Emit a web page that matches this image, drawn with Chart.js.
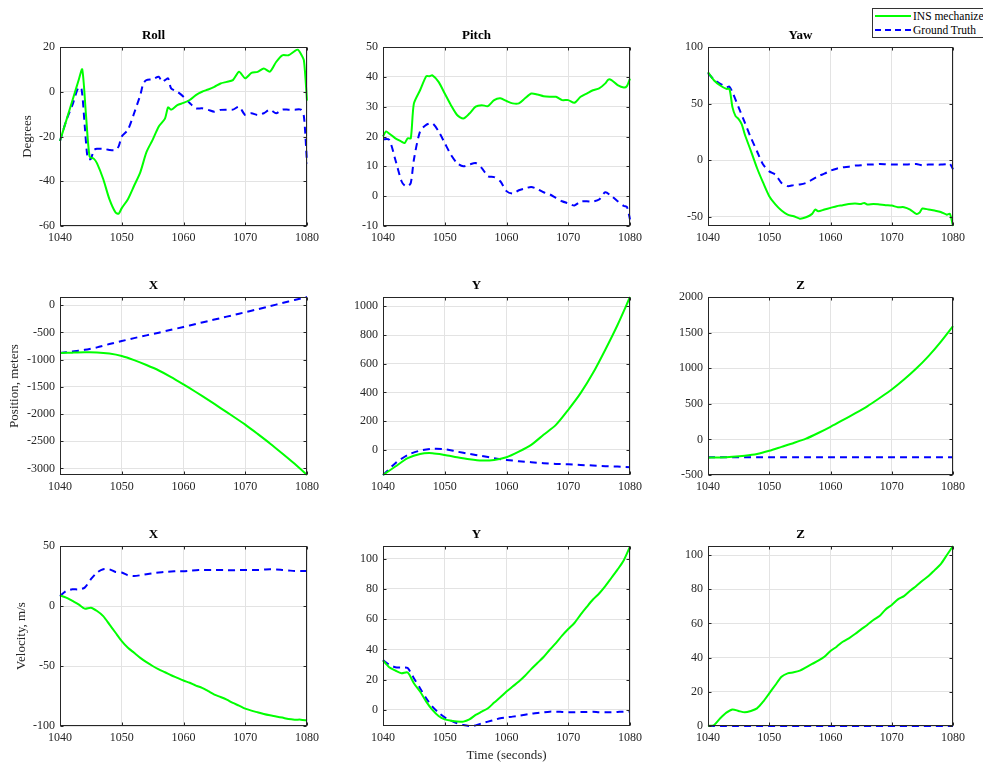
<!DOCTYPE html>
<html>
<head>
<meta charset="utf-8">
<script src="https://cdn.jsdelivr.net/npm/chart.js@4.4.1/dist/chart.umd.min.js"></script>
<style>
  body { margin: 0; background: #fff; width: 983px; height: 765px; position: relative; overflow: hidden; font-family: 'Liberation Serif', serif; }
  canvas { position: absolute; }
  #legend { position: absolute; left: 872px; top: 8px; width: 124px; height: 28px; border: 1px solid #333; background: #fff; font-size: 11.5px; color: #000; }
  #legend .row { position: absolute; left: 0; height: 14px; line-height: 14px; }
  #legend .ln { position: absolute; left: 2px; top: 6px; width: 36px; border-top: 2px solid #00ff00; }
  #legend .ln.gt { border-top: 2px dashed #0000ff; }
  #legend .tx { position: absolute; left: 40px; top: 0; white-space: nowrap; }
</style>
</head>
<body>
<div id="legend">
  <div class="row" style="top:0px"><span class="ln"></span><span class="tx">INS mechanize</span></div>
  <div class="row" style="top:14px"><span class="ln gt"></span><span class="tx">Ground Truth</span></div>
</div>
<script>
// --- data ---
const xTicks = [1040, 1050, 1060, 1070, 1080];

const rollTicks = [-60, -40, -20, 0, 20];
const rollInsT = [1040, 1041, 1042, 1043, 1043.6, 1044.2, 1044.8, 1045.5, 1046, 1047, 1048, 1049, 1049.5, 1050, 1051, 1052, 1053, 1054, 1055, 1056, 1057, 1057.5, 1058, 1059, 1060, 1061, 1062, 1063, 1064, 1065, 1066, 1067, 1068, 1069, 1070, 1071, 1072, 1073, 1074, 1075, 1076, 1077, 1078, 1078.5, 1079, 1079.5, 1080];
const rollInsV = [-22, -13, -4, 5, 10, -10, -29, -30, -32, -39, -48, -54, -54.5, -52, -48, -42, -36, -27, -21.5, -15.5, -12, -7, -8, -6, -5, -3.7, -1.5, 0, 1, 2.2, 3.7, 4.4, 5.2, 8.9, 6, 8.4, 8.9, 10.4, 9, 13.3, 16.3, 16.3, 18.2, 18.8, 17, 14, -4];
const rollGtT = [1040, 1041, 1042, 1043, 1043.5, 1044, 1044.5, 1045, 1045.5, 1046, 1047, 1048, 1049, 1049.5, 1050, 1051, 1052, 1053, 1053.5, 1054, 1055, 1056, 1056.5, 1057, 1057.5, 1058, 1059, 1060, 1061, 1062, 1063, 1064, 1065, 1066, 1067, 1068, 1069, 1070, 1071, 1072, 1073, 1074, 1075, 1076, 1077, 1078, 1079, 1079.5, 1080];
const rollGtV = [-22, -13, -6, 2, 1, -15, -30, -30, -26, -25.5, -25.5, -26, -26, -24.4, -20, -17, -9.6, -1.5, 3.7, 5.2, 5.6, 6.7, 4.4, 5.2, 6, 1.5, 0, -2.2, -5, -7.4, -7.4, -8.1, -8.9, -8.1, -8, -8, -6.7, -10.4, -9.6, -10.4, -9.6, -8, -9.6, -8, -8, -8, -8, -11, -32];

const pitchTicks = [-10, 0, 10, 20, 30, 40, 50];
const pitchInsT = [1040, 1040.5, 1041, 1042, 1043, 1043.5, 1044, 1044.5, 1045, 1046, 1047, 1047.5, 1048, 1049, 1050, 1051, 1052, 1053, 1054, 1055, 1056, 1057, 1058, 1059, 1060, 1061, 1062, 1063, 1064, 1065, 1066, 1067, 1068, 1069, 1070, 1071, 1072, 1073, 1074, 1075, 1076, 1076.5, 1077, 1078, 1079, 1079.5, 1080];
const pitchInsV = [20, 21.7, 21, 19.4, 18.3, 17.8, 19.4, 19.4, 31, 35.5, 40.2, 40.2, 40.5, 38.3, 34.4, 30.5, 27.2, 26, 27.7, 30, 30.5, 30.2, 32.2, 32.8, 31.9, 31.1, 31.1, 32.8, 34.4, 34.1, 33.5, 33.3, 33.3, 32.2, 32.2, 31.3, 33.3, 34.4, 35.5, 36.1, 37.8, 39.1, 38.9, 37.2, 36.4, 36.9, 39.4];
const pitchGtT = [1040, 1041, 1042, 1043, 1043.5, 1044, 1044.5, 1045, 1046, 1047, 1048, 1049, 1050, 1051, 1052, 1053, 1054, 1055, 1056, 1057, 1058, 1059, 1060, 1061, 1062, 1063, 1064, 1065, 1066, 1067, 1068, 1069, 1070, 1071, 1072, 1073, 1074, 1075, 1076, 1077, 1078, 1079, 1079.5, 1080];
const pitchGtV = [19.1, 18.9, 12.2, 5, 3.6, 3.3, 4.4, 12.2, 21.7, 23.9, 24.4, 21.7, 17.8, 13.9, 11.1, 10, 10.6, 11.1, 9.4, 6.7, 6.4, 5, 1.7, 0.9, 2, 2.6, 3.1, 2.4, 1.3, 0.6, -0.6, -1.7, -2.4, -3.1, -1.8, -1.7, -1.8, -1.1, 1.3, 0, -1.7, -3.3, -3.6, -7.8];

const yawTicks = [-50, 0, 50, 100];
const yawInsT = [1040, 1041, 1042, 1043, 1043.5, 1044, 1044.5, 1045, 1045.5, 1046, 1047, 1048, 1049, 1050, 1051, 1052, 1053, 1054, 1055, 1056, 1057, 1057.5, 1058, 1059, 1060, 1061, 1062, 1063, 1064, 1065, 1065.5, 1066, 1067, 1068, 1069, 1070, 1071, 1072, 1073, 1074, 1074.5, 1075, 1076, 1077, 1078, 1079, 1079.5, 1080];
const yawInsV = [77.8, 70.4, 66, 63, 63, 46.7, 39, 36.4, 32, 23, 8.3, -6.8, -19.8, -31.7, -39, -44.4, -48, -49.4, -51.5, -50.3, -47.3, -43.5, -45, -43.5, -42, -40.5, -39.6, -38.5, -38.2, -38.5, -37.6, -39, -38.5, -39, -39.6, -40, -41.4, -41.4, -43.5, -47.3, -46.4, -42.6, -43.5, -44.4, -45.6, -48, -47.3, -58];
const yawGtT = [1040, 1041, 1042, 1043, 1043.5, 1044, 1045, 1046, 1047, 1048, 1049, 1050, 1051, 1052, 1053, 1054, 1055, 1056, 1057, 1058, 1059, 1060, 1061, 1062, 1063, 1064, 1065, 1066, 1067, 1068, 1069, 1070, 1071, 1072, 1073, 1074, 1075, 1076, 1077, 1078, 1079, 1079.5, 1080];
const yawGtV = [77, 71, 67.5, 64.5, 65, 60, 46.7, 33.4, 20, 8, -3.8, -9.8, -12.7, -20, -22.8, -21.9, -21.3, -20, -17, -14, -11.8, -9.2, -7.4, -6.2, -5.6, -4.7, -4.4, -3.8, -3.8, -3.3, -3.5, -3.8, -3.8, -3.8, -3.5, -3.3, -4.4, -3.8, -3.8, -3.8, -3.3, -3, -8];

// position, every 2 s
const posTime = [1040, 1042, 1044, 1046, 1048, 1050, 1052, 1054, 1056, 1058, 1060, 1062, 1064, 1066, 1068, 1070, 1072, 1074, 1076, 1078, 1080];
const posXTicks = [-3000, -2500, -2000, -1500, -1000, -500, 0];
const posXIns = [-880, -872, -866, -868, -890, -935, -1010, -1100, -1200, -1320, -1455, -1595, -1740, -1890, -2040, -2195, -2365, -2540, -2725, -2915, -3120];
const posXGt = [-880, -850, -820, -775, -715, -660, -605, -555, -505, -452, -400, -345, -292, -238, -184, -130, -75, -18, 38, 95, 150];
const posYTicks = [0, 200, 400, 600, 800, 1000];
const posYIns = [-175, -116, -58, -28, -23, -35, -51, -65, -74, -70, -51, -12, 35, 105, 174, 279, 395, 535, 698, 872, 1065];
const posYGt = [-175, -93, -35, -5, 7, 5, -12, -28, -42, -58, -70, -79, -86, -93, -98, -100, -105, -109, -114, -116, -121];
const posZTicks = [-500, 0, 500, 1000, 1500, 2000];
const posZIns = [-256, -254, -245, -230, -205, -160, -105, -50, 10, 90, 177, 270, 365, 465, 580, 700, 840, 995, 1170, 1370, 1590];
const posZGt = [-252, -252, -252, -252, -252, -252, -252, -252, -252, -252, -252, -252, -252, -252, -252, -252, -252, -252, -252, -252, -252];

// velocity, every 1 s
const velTime = [1040, 1041, 1042, 1043, 1044, 1045, 1046, 1047, 1048, 1049, 1050, 1051, 1052, 1053, 1054, 1055, 1056, 1057, 1058, 1059, 1060, 1061, 1062, 1063, 1064, 1065, 1066, 1067, 1068, 1069, 1070, 1071, 1072, 1073, 1074, 1075, 1076, 1077, 1078, 1079, 1080];
const velXTicks = [-100, -50, 0, 50];
const velXIns = [8.9, 7, 4.2, 1.4, -2.2, -1.4, -4.2, -8.4, -15.3, -22.3, -29.2, -34.8, -39, -43.2, -46.8, -50, -52.9, -55.2, -57.7, -59.9, -62.1, -64, -66.3, -68.2, -71, -73.8, -75.8, -78, -80.8, -83, -85.5, -87.2, -88.6, -90, -91.1, -92, -93, -94.2, -94.7, -94.7, -95.3];
const velXGt = [8.4, 12.5, 13.9, 13.9, 15.3, 22.3, 27.9, 30.6, 30.6, 28.4, 27.9, 25.6, 25, 25.6, 26.5, 27.3, 27.9, 28.4, 28.7, 29, 29, 29.4, 29.8, 30, 30, 30, 30, 29.9, 29.8, 29.9, 30, 30, 30, 30.3, 30.6, 30.4, 30, 29.6, 29.2, 29.2, 29.2];
const velYTicks = [0, 20, 40, 60, 80, 100];
const velYIns = [32.7, 28.3, 26.1, 24.3, 24.8, 17.7, 12.2, 5.5, 0, -4, -6.2, -7.1, -7.7, -7.7, -6.2, -3.3, -1.1, 1.1, 4.9, 8.4, 12.2, 15.5, 18.8, 22.6, 27, 31, 35, 39.8, 44.2, 49.1, 53.5, 57.5, 63, 68.1, 73, 77, 81.9, 87.4, 92.9, 99, 108];
const velYGt = [33, 29.9, 28.3, 28.1, 27.7, 21, 14.4, 7.7, 2.2, -1.8, -4.9, -7.1, -8.8, -10, -10.6, -10.2, -8.8, -7.7, -6.6, -5.5, -4.9, -4.4, -3.8, -3.1, -2.4, -2, -1.5, -1.1, -1.1, -1.3, -1.5, -1.5, -1.3, -1.3, -1.1, -1.5, -1.5, -1.5, -1.3, -1.1, -1.1];
const velZTicks = [0, 20, 40, 60, 80, 100];
const velZIns = [0, 0.6, 4.5, 7.8, 9.7, 8.8, 8, 8.8, 10.3, 14.2, 19.1, 24, 28.8, 30.8, 31.4, 32.4, 34.3, 36.3, 38.2, 40.5, 43.9, 46.4, 49.3, 51.3, 53.8, 56.5, 59.1, 62, 64.3, 68.2, 70.8, 74.1, 76, 79.1, 81.9, 85, 87.7, 91.2, 94.7, 100, 105.3];
const velZGt = [0, 0, 0, 0, 0, 0, 0, 0, 0, 0, 0, 0, 0, 0, 0, 0, 0, 0, 0, 0, 0, 0, 0, 0, 0, 0, 0, 0, 0, 0, 0, 0, 0, 0, 0, 0, 0, 0, 0, 0, 0];

// --- layout ---
const COLS = [{ l: 60, r: 307 }, { l: 383, r: 630 }, { l: 708, r: 953 }];
const ROWS = [{ t: 47, b: 226 }, { t: 297, b: 475 }, { t: 546, b: 726 }];
const Y_W = 60, TITLE_H = 25, RIGHT_PAD = 22;
const FONT = "'Liberation Serif', 'Times New Roman', serif";
const TICK_COLOR = '#262626';

function pts(t, v) {
  return t.map((x, i) => ({ x: x, y: v[i] }));
}

// plain numbers, no thousands separator
const plain = v => String(v);

// box + inward tick marks, matlab style
const framePlugin = {
  id: 'frame',
  afterDraw(chart) {
    const a = chart.chartArea;
    const c = chart.ctx;
    const L = Math.round(a.left) + 0.5, R = Math.round(a.right) - 0.5;
    const T = Math.round(a.top) + 0.5, B = Math.round(a.bottom) - 0.5;
    c.save();
    c.strokeStyle = TICK_COLOR;
    c.lineWidth = 1;
    c.beginPath();
    chart.scales.x.ticks.forEach(tk => {
      const px = Math.round(chart.scales.x.getPixelForValue(tk.value)) + 0.5;
      c.moveTo(px, B); c.lineTo(px, B - 3);
      c.moveTo(px, T); c.lineTo(px, T + 3);
    });
    chart.scales.y.ticks.forEach(tk => {
      const py = Math.round(chart.scales.y.getPixelForValue(tk.value)) + 0.5;
      c.moveTo(L, py); c.lineTo(L + 3, py);
      c.moveTo(R, py); c.lineTo(R - 3, py);
    });
    c.stroke();
    c.strokeRect(L, T, R - L, B - T);
    c.restore();
  }
};

function panel(col, row, p) {
  const box = COLS[col], rw = ROWS[row];
  const xh = p.xTitle ? 42 : 22;
  const cv = document.createElement('canvas');
  const w = (box.r - box.l) + Y_W + RIGHT_PAD;
  const h = (rw.b - rw.t) + TITLE_H + xh;
  cv.width = w; cv.height = h;
  cv.style.left = (box.l - Y_W) + 'px';
  cv.style.top = (rw.t - TITLE_H) + 'px';
  document.body.appendChild(cv);

  new Chart(cv.getContext('2d'), {
    type: 'line',
    data: {
      datasets: [
        { label: 'INS mechanize', data: p.ins, borderColor: '#00ff00', borderWidth: 2, pointRadius: 0, tension: 0.25, clip: 3 },
        { label: 'Ground Truth', data: p.gt, borderColor: '#0000ff', borderWidth: 2, borderDash: [7, 5], pointRadius: 0, tension: 0.25, clip: 3 }
      ]
    },
    options: {
      responsive: false,
      animation: false,
      events: [],
      layout: { padding: { right: RIGHT_PAD, left: 0, top: 0, bottom: 0 } },
      plugins: {
        legend: { display: false },
        tooltip: { enabled: false },
        title: {
          display: true,
          text: p.title,
          color: '#000',
          font: { family: FONT, size: 13, weight: 'bold', lineHeight: 1.2 },
          padding: { top: 6, bottom: 3.4 }
        }
      },
      scales: {
        x: {
          type: 'linear',
          min: 1040, max: 1080,
          afterBuildTicks: s => { s.ticks = xTicks.map(v => ({ value: v })); },
          afterFit: s => { s.height = xh; },
          grid: { color: '#e3e3e3', drawTicks: false },
          border: { display: false },
          ticks: { color: TICK_COLOR, font: { family: FONT, size: 12 }, padding: 5, maxRotation: 0, callback: plain },
          title: p.xTitle ? { display: true, text: p.xTitle, color: TICK_COLOR, font: { family: FONT, size: 13 }, padding: { top: 0, bottom: 5 } } : { display: false }
        },
        y: {
          min: p.min, max: p.max,
          afterBuildTicks: s => { s.ticks = p.ticks.map(v => ({ value: v })); },
          afterFit: s => { s.width = Y_W; },
          grid: { color: '#e3e3e3', drawTicks: false },
          border: { display: false },
          ticks: { color: TICK_COLOR, font: { family: FONT, size: 12 }, padding: 5, callback: plain },
          title: p.yTitle ? { display: true, text: p.yTitle, color: TICK_COLOR, font: { family: FONT, size: 13 }, padding: { top: p.yPad, bottom: 0 } } : { display: false }
        }
      }
    },
    plugins: [framePlugin]
  });
}

panel(0, 0, { title: 'Roll', ins: pts(rollInsT, rollInsV), gt: pts(rollGtT, rollGtV), min: -60, max: 20, ticks: rollTicks, yTitle: 'Degrees', yPad: 20 });
panel(1, 0, { title: 'Pitch', ins: pts(pitchInsT, pitchInsV), gt: pts(pitchGtT, pitchGtV), min: -10, max: 50, ticks: pitchTicks });
panel(2, 0, { title: 'Yaw', ins: pts(yawInsT, yawInsV), gt: pts(yawGtT, yawGtV), min: -58, max: 100, ticks: yawTicks });

panel(0, 1, { title: 'X', ins: pts(posTime, posXIns), gt: pts(posTime, posXGt), min: -3120, max: 150, ticks: posXTicks, yTitle: 'Position, meters', yPad: 7 });
panel(1, 1, { title: 'Y', ins: pts(posTime, posYIns), gt: pts(posTime, posYGt), min: -175, max: 1065, ticks: posYTicks });
panel(2, 1, { title: 'Z', ins: pts(posTime, posZIns), gt: pts(posTime, posZGt), min: -500, max: 2000, ticks: posZTicks });

panel(0, 2, { title: 'X', ins: pts(velTime, velXIns), gt: pts(velTime, velXGt), min: -100, max: 50, ticks: velXTicks, yTitle: 'Velocity, m/s', yPad: 14 });
panel(1, 2, { title: 'Y', ins: pts(velTime, velYIns), gt: pts(velTime, velYGt), min: -10.6, max: 108.4, ticks: velYTicks, xTitle: 'Time (seconds)' });
panel(2, 2, { title: 'Z', ins: pts(velTime, velZIns), gt: pts(velTime, velZGt), min: 0, max: 105.3, ticks: velZTicks });
</script>
</body>
</html>
